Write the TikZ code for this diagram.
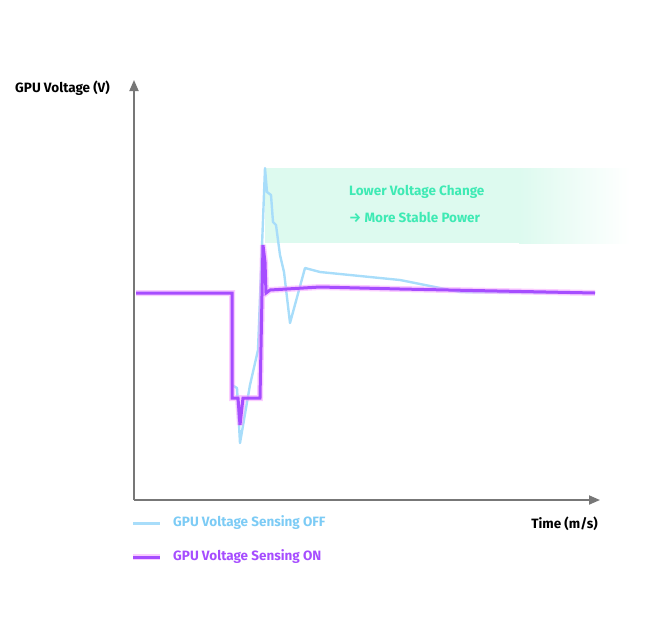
\documentclass[tikz,border=0pt]{standalone}
\usepackage{fontspec}
\setmainfont{Fira Sans}
\usepackage{tikz}
\usetikzlibrary{arrows.meta}
\definecolor{offblue}{HTML}{A8DDFA}
\definecolor{offtext}{HTML}{7CCBF5}
\definecolor{onpurple}{HTML}{A64DFF}
\definecolor{glowpink}{HTML}{F59BFF}
\definecolor{boxgreen}{HTML}{DDFAEF}
\definecolor{textgreen}{HTML}{3EEAB4}
\definecolor{axisgray}{HTML}{777777}
\begin{document}
\begin{tikzpicture}[
            x = 1pt, y = -1pt,
            > = {Triangle[length=11pt,width=9pt]}, % arrow head style
            axis/.style = {draw=axisgray, line width=1.8pt, ->},
            label/.style = {font=\bfseries\fontsize{13.5}{15}\selectfont, inner sep=0pt},
            offline/.style = {draw=offblue, line width=2.4pt, line join=round},
            online/.style = {draw=onpurple, line width=3pt, line join=miter},
            glow/.style = {draw=glowpink, line width=6pt, opacity=0.5}
        ]
\useasboundingbox (0,0) rectangle (658,625);
% stability band
\fill[boxgreen] (265,168) rectangle (520,243);
\shade[left color=boxgreen, right color=white] (519,168) rectangle (630,243);
\node[label, text=textgreen, anchor=west] (band1) at (349,192) {Lower Voltage Change};
\node[label, text=textgreen, anchor=west] (band2) at (349,217) {→ More Stable Power};
% axes
\coordinate (O) at (134,500);
\coordinate (Ytop) at (134,80);
\coordinate (Xend) at (600,500);
\draw[axis] (O) -- (Ytop);
\draw[axis] (O) -- (Xend);
\node[label, anchor=west] (ylab) at (15,88) {GPU Voltage (V)};
\node[label, anchor=east] (xlab) at (598,524) {Time (m/s)};
% sensing off
\draw[offline] (136,293) -- (232,293) -- (232,385) -- (237,388) -- (240,443)
  -- (250,385) -- (258,350) -- (265,168) -- (267,192) -- (271,195) -- (273,222)
  -- (276,225) -- (280,255) -- (284,272) -- (290,323) -- (305,268) -- (320,272)
  -- (350,275) -- (400,280) -- (460,292) -- (595,293);
% sensing on
\draw[glow] (136,293) -- (232,293) -- (232,398) -- (238,398) -- (240,425)
  -- (243,398) -- (260,398) -- (263,245) -- (265,262) -- (266,293) -- (270,290)
  -- (320,287) -- (400,289) -- (595,293);
\draw[online] (136,293) -- (232,293) -- (232,398) -- (238,398) -- (240,425)
  -- (243,398) -- (260,398) -- (263,245) -- (265,262) -- (266,293) -- (270,290)
  -- (320,287) -- (400,289) -- (595,293);
% legend
\draw[offline, line width=3pt] (133,523) -- (160,523);
\node[label, text=offtext, anchor=west] (leg1) at (173,523) {GPU Voltage Sensing OFF};
\draw[glow] (133,557) -- (160,557);
\draw[online] (133,557) -- (160,557);
\node[label, text=onpurple, anchor=west] (leg2) at (173,557) {GPU Voltage Sensing ON};
\end{tikzpicture}
\end{document}
